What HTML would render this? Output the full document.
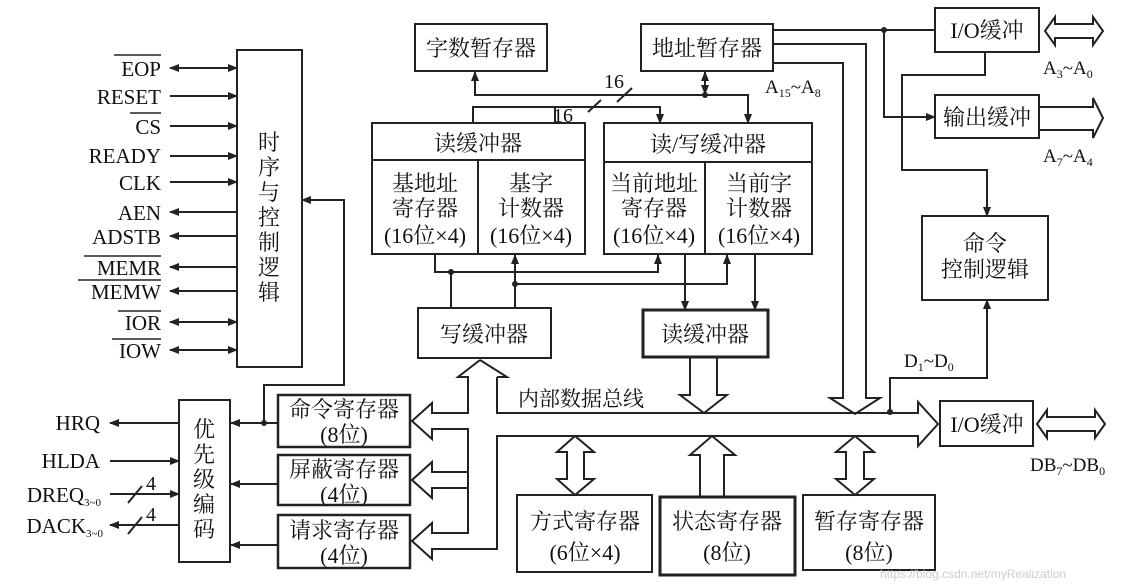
<!DOCTYPE html>
<html><head><meta charset="utf-8"><style>
html,body{margin:0;padding:0;background:#fff}
svg{display:block}
text{font-family:"Liberation Serif","Noto Serif CJK SC",serif;fill:#111}
</style></head><body>
<svg width="1138" height="584" viewBox="0 0 1138 584" xmlns="http://www.w3.org/2000/svg">
<defs>
<marker id="a" markerWidth="10" markerHeight="8" refX="9" refY="4" orient="auto" markerUnits="userSpaceOnUse"><path d="M0,0 L10,4 L0,8 z" fill="#222"/></marker>
<marker id="s" markerWidth="10" markerHeight="8" refX="1" refY="4" orient="auto" markerUnits="userSpaceOnUse"><path d="M10,0 L0,4 L10,8 z" fill="#222"/></marker>
</defs>
<g stroke="#222" stroke-width="2" fill="none">
<rect x="237" y="50" width="65" height="317"/>
<line x1="170" y1="68" x2="237" y2="68" marker-start="url(#s)" marker-end="url(#a)"/>
<line x1="170" y1="96" x2="237" y2="96" marker-end="url(#a)"/>
<line x1="170" y1="126" x2="237" y2="126" marker-end="url(#a)"/>
<line x1="170" y1="156" x2="237" y2="156" marker-end="url(#a)"/>
<line x1="170" y1="182" x2="237" y2="182" marker-end="url(#a)"/>
<line x1="170" y1="212" x2="237" y2="212" marker-start="url(#s)"/>
<line x1="170" y1="236" x2="237" y2="236" marker-start="url(#s)"/>
<line x1="170" y1="267" x2="237" y2="267" marker-start="url(#s)"/>
<line x1="170" y1="291" x2="237" y2="291" marker-start="url(#s)"/>
<line x1="170" y1="322" x2="237" y2="322" marker-start="url(#s)" marker-end="url(#a)"/>
<line x1="170" y1="350" x2="237" y2="350" marker-start="url(#s)" marker-end="url(#a)"/>
<polyline points="264,423 264,385 344,385 344,200 302,200" marker-end="url(#a)"/>
<rect x="415" y="24" width="132" height="47"/>
<rect x="641" y="24" width="132" height="47"/>
<rect x="372" y="123" width="213" height="131"/>
<line x1="372" y1="160" x2="585" y2="160"/><line x1="478" y1="160" x2="478" y2="254"/>
<rect x="604" y="123" width="208" height="131"/>
<line x1="604" y1="162" x2="812" y2="162"/><line x1="705" y1="162" x2="705" y2="254"/>
<rect x="418" y="308" width="133" height="50"/>
<rect x="643" y="310" width="125" height="47" stroke-width="3"/>
<polyline points="475,71 475,95 748,95 748,123" marker-end="url(#a)"/>
<line x1="475" y1="95" x2="475" y2="72" marker-end="url(#a)"/>
<line x1="705" y1="95" x2="705" y2="72" marker-end="url(#a)"/>
<line x1="705" y1="71" x2="705" y2="94" marker-end="url(#a)"/>
<line x1="617" y1="102" x2="632" y2="88"/>
<polyline points="473,123 473,107 660,107 660,123" marker-end="url(#a)"/>
<line x1="555" y1="107" x2="555" y2="123"/>
<line x1="588" y1="112" x2="601" y2="100"/>
<polyline points="435,254 435,272 658,272 658,255" marker-end="url(#a)"/>
<line x1="451" y1="272" x2="451" y2="308"/>
<polyline points="515,284 727,284 727,255" marker-end="url(#a)"/>
<line x1="515" y1="308" x2="515" y2="255" marker-end="url(#a)"/>
<line x1="685" y1="254" x2="685" y2="310" marker-end="url(#a)"/>
<line x1="755" y1="254" x2="755" y2="310" marker-end="url(#a)"/>
<rect x="935" y="8" width="104" height="44"/>
<rect x="935" y="95" width="104" height="43"/>
<rect x="922" y="216" width="126" height="84"/>
<rect x="940" y="401" width="93" height="45"/>
<line x1="773" y1="30" x2="935" y2="30"/>
<polyline points="884,30 884,117 935,117" marker-end="url(#a)"/>
<polyline points="985,52 985,75 902,75 902,170 987,170 987,216" marker-end="url(#a)"/>
<polyline points="890,412 890,378 987,378 987,300" marker-end="url(#a)"/>
<polyline points="773,44 866,44 866,398 880,398 855,414 830,398 843,398 843,63 773,63"/>
<polyline points="690,357 690,395 680,395 704,413 727,395 717,395 717,357"/>
<polygon points="1045,31 1055,17 1055,24 1093,24 1093,17 1103,31 1093,45 1093,38 1055,38 1055,45"/>
<polygon points="1039,107 1093,107 1093,98 1103,118 1093,138 1093,130 1039,130"/>
<polygon points="1037,424 1047,410 1047,417 1095,417 1095,410 1105,424 1095,438 1095,431 1047,431 1047,438"/>
<polyline points="480,360 458,377 468,377 468,413 432,413 432,403 412,421 432,439 432,429 468,429 468,472 432,472 432,462 412,480 432,498 432,488 468,488 468,473"/>
<polyline points="497,377 507,377 480,360"/>
<polyline points="497,377 497,413 918,413 918,402 938,424 918,446 918,436 497,436 497,549 432,549 432,559 412,541 432,523 432,533 468,533 468,488"/>
<polygon points="567,452 557,452 575,436 594,452 584,452 584,479 594,479 575,495 557,479 567,479"/>
<polygon points="700,497 700,455 690,455 712,436 735,455 724,455 724,497"/>
<polygon points="846,452 836,452 855,436 874,452 864,452 864,479 874,479 855,495 836,479 846,479"/>
<rect x="517" y="495" width="135" height="77"/>
<rect x="660" y="497" width="135" height="78" stroke-width="3"/>
<rect x="803" y="495" width="132" height="75"/>
<rect x="278" y="395" width="132" height="52" stroke-width="2.5"/>
<rect x="278" y="455" width="132" height="50" stroke-width="2.5"/>
<rect x="278" y="515" width="132" height="53" stroke-width="2.5"/>
<rect x="179" y="400" width="51" height="162"/>
<line x1="278" y1="423" x2="231" y2="423" marker-end="url(#a)"/>
<line x1="278" y1="484" x2="231" y2="484" marker-end="url(#a)"/>
<line x1="278" y1="545" x2="231" y2="545" marker-end="url(#a)"/>
<line x1="179" y1="423" x2="110" y2="423" marker-end="url(#a)"/>
<line x1="110" y1="461" x2="179" y2="461" marker-end="url(#a)"/>
<line x1="110" y1="494" x2="179" y2="494" marker-end="url(#a)"/>
<line x1="179" y1="525" x2="110" y2="525" marker-end="url(#a)"/>
<line x1="128" y1="503" x2="142" y2="486"/>
<line x1="128" y1="534" x2="142" y2="517"/>
</g>
<g fill="#222">
<circle cx="705" cy="95" r="3"/><circle cx="451" cy="272" r="3"/><circle cx="515" cy="284" r="3"/>
<circle cx="884" cy="30" r="3"/><circle cx="890" cy="412" r="3"/><circle cx="264" cy="423" r="3"/>
</g>
<g font-size="21" text-anchor="end">
<text x="161" y="76">EOP</text><text x="161" y="104">RESET</text><text x="161" y="134">CS</text>
<text x="161" y="163">READY</text><text x="161" y="190">CLK</text><text x="161" y="220">AEN</text>
<text x="161" y="244">ADSTB</text><text x="161" y="275">MEMR</text><text x="161" y="299">MEMW</text>
<text x="161" y="330">IOR</text><text x="161" y="358">IOW</text>
<text x="100" y="430">HRQ</text><text x="100" y="468">HLDA</text>
<text x="84" y="502">DREQ</text><text x="86" y="533">DACK</text>
</g>
<g font-size="11"><text x="84" y="506">3~0</text><text x="86" y="537">3~0</text></g>
<g stroke="#222" stroke-width="1.5">
<line x1="114" y1="55" x2="161" y2="55"/><line x1="130" y1="113" x2="161" y2="113"/>
<line x1="84" y1="256" x2="161" y2="256"/><line x1="78" y1="280" x2="161" y2="280"/>
<line x1="118" y1="311" x2="161" y2="311"/><line x1="112" y1="339" x2="161" y2="339"/>
</g>
<g font-size="20">
<text x="146" y="490">4</text><text x="146" y="521">4</text>
<text x="604" y="88">16</text><text x="553" y="122">16</text>
</g>
<g font-size="22" text-anchor="middle">
<text x="269" y="150">时</text><text x="269" y="175">序</text><text x="269" y="200">与</text>
<text x="269" y="225">控</text><text x="269" y="250">制</text><text x="269" y="275">逻</text><text x="269" y="300">辑</text>
<text x="204" y="437">优</text><text x="204" y="462">先</text><text x="204" y="487">级</text><text x="204" y="512">编</text><text x="204" y="537">码</text>
<text x="481" y="56">字数暂存器</text><text x="707" y="56">地址暂存器</text>
<text x="478" y="151">读缓冲器</text><text x="708" y="152">读/写缓冲器</text>
<text x="425" y="191">基地址</text><text x="425" y="216">寄存器</text><text x="425" y="243">(16位×4)</text>
<text x="531" y="191">基字</text><text x="531" y="216">计数器</text><text x="531" y="243">(16位×4)</text>
<text x="654" y="191">当前地址</text><text x="654" y="216">寄存器</text><text x="654" y="243">(16位×4)</text>
<text x="759" y="191">当前字</text><text x="759" y="216">计数器</text><text x="759" y="243">(16位×4)</text>
<text x="484" y="342">写缓冲器</text><text x="705" y="342">读缓冲器</text>
<text x="987" y="38">I/O缓冲</text><text x="987" y="125">输出缓冲</text>
<text x="985" y="251">命令</text><text x="985" y="277">控制逻辑</text>
<text x="987" y="432">I/O缓冲</text>
<text x="344" y="417">命令寄存器</text><text x="344" y="442">(8位)</text>
<text x="344" y="477">屏蔽寄存器</text><text x="344" y="502">(4位)</text>
<text x="344" y="538">请求寄存器</text><text x="344" y="563">(4位)</text>
<text x="585" y="529">方式寄存器</text><text x="585" y="560">(6位×4)</text>
<text x="727" y="529">状态寄存器</text><text x="727" y="560">(8位)</text>
<text x="869" y="529">暂存寄存器</text><text x="869" y="560">(8位)</text>
</g>
<text x="518" y="406" font-size="21">内部数据总线</text>
<g font-size="19">
<text x="765" y="93">A<tspan font-size="12" dy="4">15</tspan><tspan dy="-4">~A</tspan><tspan font-size="12" dy="4">8</tspan></text>
<text x="1043" y="74">A<tspan font-size="12" dy="4">3</tspan><tspan dy="-4">~A</tspan><tspan font-size="12" dy="4">0</tspan></text>
<text x="1043" y="162">A<tspan font-size="12" dy="4">7</tspan><tspan dy="-4">~A</tspan><tspan font-size="12" dy="4">4</tspan></text>
<text x="904" y="367">D<tspan font-size="12" dy="4">1</tspan><tspan dy="-4">~D</tspan><tspan font-size="12" dy="4">0</tspan></text>
<text x="1030" y="471">DB<tspan font-size="12" dy="4">7</tspan><tspan dy="-4">~DB</tspan><tspan font-size="12" dy="4">0</tspan></text>
</g>
<text x="880" y="578" font-size="12" style="fill:#ccc;font-family:'Liberation Sans',sans-serif">https://blog.csdn.net/myRealization</text>
</svg>
</body></html>
